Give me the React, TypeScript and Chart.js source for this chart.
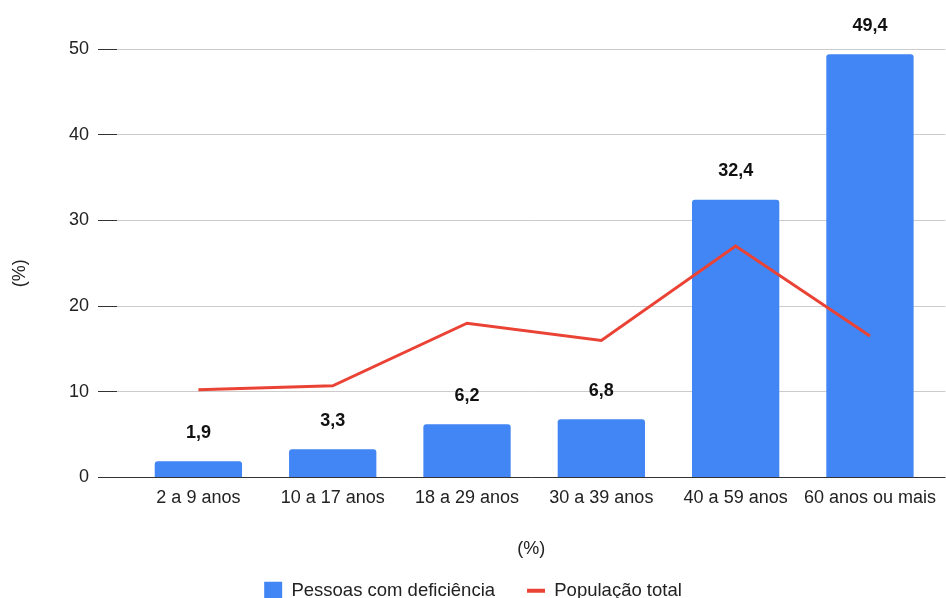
import { useEffect, useRef } from 'react';
import { Chart, registerables } from 'chart.js';

Chart.register(...registerables);

// Age groups and the two percentage series
const categories = ['2 a 9 anos', '10 a 17 anos', '18 a 29 anos', '30 a 39 anos', '40 a 59 anos', '60 anos ou mais'];
const pessoasComDeficiencia = [1.9, 3.3, 6.2, 6.8, 32.4, 49.4];
const populacaoTotal = [10.25, 10.7, 18.0, 16.0, 27.0, 16.5];
const yTicks = [0, 10, 20, 30, 40, 50];
const seriesNames = ['Pessoas com deficiência', 'População total'];
const axisTitle = '(%)';

const FONT = "'Liberation Sans', Arial, Helvetica, sans-serif";
const TEXT = '#222222';
const BLUE = '#4285F4';
const RED = '#EA4335';

const fmt = (v: number) => v.toFixed(1).replace('.', ',');

// Value labels above each bar
const barValueLabels = {
  id: 'barValueLabels',
  afterDatasetsDraw(chart: any) {
    const meta = chart.getDatasetMeta(0);
    const ctx = chart.ctx as CanvasRenderingContext2D;
    ctx.save();
    ctx.font = `bold 18px ${FONT}`;
    ctx.fillStyle = '#111111';
    ctx.textAlign = 'center';
    ctx.textBaseline = 'middle';
    meta.data.forEach((el: any, i: number) => {
      ctx.fillText(fmt(pessoasComDeficiencia[i]), el.x, el.y - 28.5);
    });
    ctx.restore();
  },
};

// Vertical axis title, set a little below the middle of the plot
const yAxisTitle = {
  id: 'yAxisTitle',
  afterDraw(chart: any) {
    const ctx = chart.ctx as CanvasRenderingContext2D;
    const area = chart.chartArea;
    ctx.save();
    ctx.font = `18px ${FONT}`;
    ctx.fillStyle = TEXT;
    ctx.textAlign = 'center';
    ctx.textBaseline = 'middle';
    ctx.translate(20, (area.top + area.bottom) / 2 + 10);
    ctx.rotate(-Math.PI / 2);
    ctx.fillText(axisTitle, 0, 0);
    ctx.restore();
  },
};

export default function App() {
  const canvasRef = useRef<HTMLCanvasElement | null>(null);

  useEffect(() => {
    if (!canvasRef.current) return;
    const font = { family: FONT, size: 18 };
    const legendFont = { family: FONT, size: 18.5 };
    const chart = new Chart(canvasRef.current, {
      type: 'bar',
      data: {
        datasets: [
          {
            type: 'bar',
            label: seriesNames[0],
            data: categories.map((_, i) => ({ x: i, y: pessoasComDeficiencia[i] })),
            backgroundColor: BLUE,
            borderWidth: 0,
            borderRadius: 3,
            barPercentage: 0.65,
            categoryPercentage: 1,
            pointStyle: 'rect',
            order: 1,
          },
          {
            type: 'line',
            label: seriesNames[1],
            data: categories.map((_, i) => ({ x: i, y: populacaoTotal[i] })),
            borderColor: RED,
            backgroundColor: RED,
            borderWidth: 3,
            pointRadius: 0,
            pointHoverRadius: 0,
            pointStyle: 'line',
            tension: 0,
            order: 0,
          },
        ],
      } as any,
      options: {
        responsive: false,
        animation: false,
        layout: { padding: { top: 49, left: 0, right: 0, bottom: 0 } },
        scales: {
          x: {
            type: 'linear',
            min: -0.606,
            max: 5.562,
            offset: false,
            afterBuildTicks: (axis: any) => {
              axis.ticks = categories.map((_, i) => ({ value: i }));
            },
            afterFit: (axis: any) => {
              axis.height = 72;
            },
            grid: { display: false, drawTicks: false },
            border: { display: false },
            ticks: {
              autoSkip: false,
              maxRotation: 0,
              minRotation: 0,
              padding: 10,
              color: TEXT,
              font,
              callback: (v: any) => categories[Math.round(Number(v))] ?? '',
            },
            title: {
              display: true,
              text: axisTitle,
              color: TEXT,
              font,
              padding: { top: 0, bottom: -10 },
            },
          },
          y: {
            min: 0,
            max: 50,
            afterBuildTicks: (axis: any) => {
              axis.ticks = yTicks.map((v) => ({ value: v }));
            },
            afterFit: (axis: any) => {
              axis.width = 117;
            },
            grid: {
              color: (c: any) => (c.tick && c.tick.value === 0 ? '#333333' : '#cccccc'),
              tickColor: '#333333',
              tickLength: 19,
              lineWidth: 1,
            },
            border: { display: false },
            ticks: { padding: 9, color: TEXT, font },
            title: { display: false },
          },
        },
        plugins: {
          legend: {
            position: 'bottom',
            labels: {
              usePointStyle: true,
              pointStyleWidth: 18,
              boxHeight: 18,
              padding: 32,
              color: TEXT,
              font: legendFont,
              sort: (a: any, b: any) => a.datasetIndex - b.datasetIndex,
              generateLabels: (c: any) => {
                const items = (Chart.defaults.plugins.legend.labels as any).generateLabels(c);
                items.forEach((it: any) => {
                  if (it.datasetIndex === 1) it.lineWidth = 4;
                });
                return items;
              },
            },
          },
          tooltip: { enabled: false },
        },
      } as any,
      plugins: [barValueLabels, yAxisTitle],
    });
    return () => chart.destroy();
  }, []);

  return (
    <div style={{ position: 'fixed', left: 0, top: 0, width: 946, height: 610, background: '#ffffff' }}>
      <canvas ref={canvasRef} width={946} height={610} style={{ display: 'block' }} />
    </div>
  );
}
